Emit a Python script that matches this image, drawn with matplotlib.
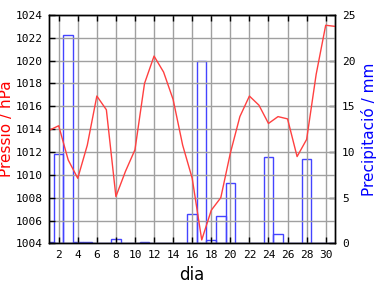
import numpy as np
import matplotlib
matplotlib.use("Agg")
import matplotlib.pyplot as plt

# daily data
dies = list(range(1, 32))
pressio = [1013.9, 1014.3, 1011.3, 1009.7, 1012.6, 1016.9, 1015.7, 1008.1,
           1010.3, 1012.2, 1018.0, 1020.4, 1019.0, 1016.6, 1012.6, 1009.7,
           1004.3, 1006.9, 1008.0, 1011.9, 1015.1, 1016.9, 1016.1, 1014.5,
           1015.1, 1014.9, 1011.6, 1013.1, 1018.8, 1023.1, 1023.0]
precip = [0.2, 9.8, 22.8, 0.2, 0.2, 0, 0, 0.5, 0, 0, 0.2, 0, 0, 0, 0, 3.2,
          20.0, 0.4, 3.0, 6.6, 0, 0, 0, 9.4, 1.0, 0, 0, 9.2, 0, 0, 0]

xticks = list(range(2, 31, 2))
pticks = list(range(1004, 1025, 2))
rticks = [0, 5, 10, 15, 20, 25]

mono = "DejaVu Sans Mono"

fig = plt.figure(figsize=(3.84, 2.88), dpi=100)
ax = fig.add_axes([0.128, 0.155, 0.745, 0.793])
ax2 = ax.twinx()

#bars on the right axis, only edges
ax2.bar(dies, precip, width=1.0, facecolor="none", edgecolor="#4444ff", linewidth=1.0)
ax2.set_ylim(0, 25)
ax2.set_yticks(rticks)
ax2.set_ylabel("Precipitació / mm", color="#0000ff", fontsize=11)
ax2.yaxis.set_label_coords(1.09, 0.5)

#pressure line above the bars
ax.set_zorder(ax2.get_zorder() + 1)
ax.patch.set_visible(False)
ax.plot(dies, pressio, color="#ff4040", linewidth=1.0)
ax.set_xlim(1, 31)
ax.set_ylim(1004, 1024)
ax.set_xticks(xticks)
ax.set_yticks(pticks)
ax.grid(True, color="#a0a0a0", linewidth=1.0)
ax.set_axisbelow(True)
ax.set_ylabel("Pressió / hPa", color="#ff0000", fontsize=11)
ax.yaxis.set_label_coords(-0.122, 0.5)
ax.set_xlabel("dia", fontsize=12)

for a in (ax, ax2):
    a.tick_params(direction="in", length=4, width=1, labelsize=8, pad=5)
    for lbl in a.get_xticklabels() + a.get_yticklabels():
        lbl.set_family(mono)
    for s in a.spines.values():
        s.set_linewidth(1.0)
ax.tick_params(top=True)

fig.savefig("out.png", dpi=100)
